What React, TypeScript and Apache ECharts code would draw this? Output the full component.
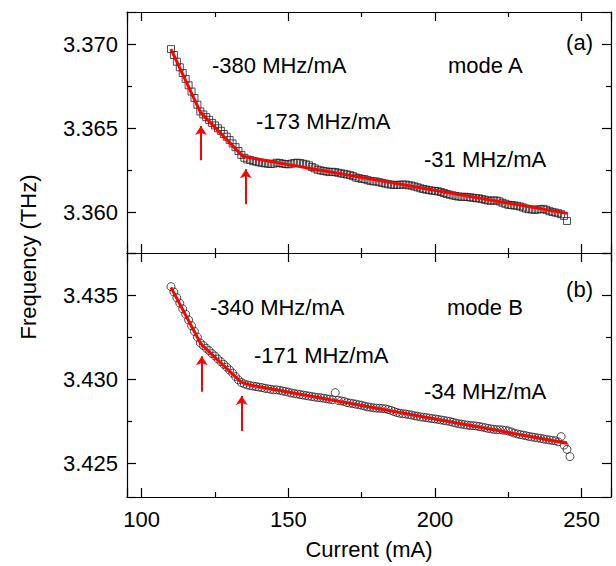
import React, { useEffect, useRef } from "react";
import * as echarts from "echarts";

// ---- Data ----
const currentA = [
  110, 111, 112, 113, 114, 115, 116, 117, 118, 119, 120, 121, 122, 123, 124, 125, 126, 127, 128, 129,
  130, 131, 132, 133, 134, 135, 136, 137, 138, 139, 140, 141, 142, 143, 144, 145, 146, 147, 148, 149,
  150, 151, 152, 153, 154, 155, 156, 157, 158, 159, 160, 161, 162, 163, 164, 165, 166, 167, 168, 169,
  170, 171, 172, 173, 174, 175, 176, 177, 178, 179, 180, 181, 182, 183, 184, 185, 186, 187, 188, 189,
  190, 191, 192, 193, 194, 195, 196, 197, 198, 199, 200, 201, 202, 203, 204, 205, 206, 207, 208, 209,
  210, 211, 212, 213, 214, 215, 216, 217, 218, 219, 220, 221, 222, 223, 224, 225, 226, 227, 228, 229,
  230, 231, 232, 233, 234, 235, 236, 237, 238, 239, 240, 241, 242, 243, 244, 245,
];
const freqA = [
  3.3697, 3.36935, 3.36895, 3.36862, 3.36828, 3.36793, 3.36755, 3.36718, 3.3668, 3.3664,
  3.366, 3.36582, 3.36566, 3.3655, 3.36532, 3.36517, 3.365, 3.36485, 3.36466, 3.3645,
  3.3643, 3.3641, 3.36388, 3.36365, 3.36342, 3.36325, 3.36315, 3.36312, 3.36305, 3.36302,
  3.36298, 3.36295, 3.36292, 3.3629, 3.36288, 3.3629, 3.36296, 3.36294, 3.3629, 3.36288,
  3.36286, 3.3629, 3.36294, 3.36296, 3.36294, 3.3629, 3.36286, 3.3628, 3.3627, 3.36262,
  3.36254, 3.3625, 3.36246, 3.36244, 3.3624, 3.36242, 3.3624, 3.36236, 3.36232, 3.3623,
  3.36226, 3.36222, 3.36216, 3.36208, 3.36204, 3.362, 3.36198, 3.36192, 3.36188, 3.36185,
  3.36184, 3.3618, 3.36176, 3.36172, 3.36168, 3.36166, 3.36164, 3.36164, 3.36165, 3.36166,
  3.36166, 3.36162, 3.3616, 3.36155, 3.3615, 3.36144, 3.3614, 3.36136, 3.36133, 3.3613,
  3.36128, 3.36126, 3.36122, 3.36116, 3.3611, 3.36106, 3.36102, 3.36098, 3.36095, 3.36093,
  3.36094, 3.36092, 3.3609, 3.36088, 3.36085, 3.36084, 3.3608, 3.36076, 3.36072, 3.3607,
  3.36072, 3.36071, 3.36066, 3.36058, 3.36052, 3.36046, 3.36044, 3.36042, 3.3604, 3.36036,
  3.3603, 3.36024, 3.3602, 3.36018, 3.36016, 3.36018, 3.3602, 3.36022, 3.36016, 3.36008,
  3.36004, 3.36, 3.35996, 3.3599, 3.3598, 3.3595,
];
const fitCurrentA = [110, 120, 134.6, 245];
const fitFreqA = [3.3697, 3.36596, 3.36332, 3.35995];

const currentB = [
  110, 111, 112, 113, 114, 115, 116, 117, 118, 119, 120, 121, 122, 123, 124, 125, 126, 127, 128, 129,
  130, 131, 132, 133, 134, 135, 136, 137, 138, 139, 140, 141, 142, 143, 144, 145, 146, 147, 148, 149,
  150, 151, 152, 153, 154, 155, 156, 157, 158, 159, 160, 161, 162, 163, 164, 165, 166, 167, 168, 169,
  170, 171, 172, 173, 174, 175, 176, 177, 178, 179, 180, 181, 182, 183, 184, 185, 186, 187, 188, 189,
  190, 191, 192, 193, 194, 195, 196, 197, 198, 199, 200, 201, 202, 203, 204, 205, 206, 207, 208, 209,
  210, 211, 212, 213, 214, 215, 216, 217, 218, 219, 220, 221, 222, 223, 224, 225, 226, 227, 228, 229,
  230, 231, 232, 233, 234, 235, 236, 237, 238, 239, 240, 241, 242, 243, 244, 245, 246,
];
const freqB = [
  3.4355, 3.43518, 3.43484, 3.43452, 3.43418, 3.43386, 3.43352, 3.43318, 3.43284, 3.4325,
  3.43215, 3.432, 3.43184, 3.4317, 3.43152, 3.43138, 3.4312, 3.43104, 3.43088, 3.43072,
  3.43054, 3.43036, 3.43016, 3.42996, 3.4298, 3.42972, 3.42966, 3.42962, 3.42959, 3.42956,
  3.42953, 3.4295, 3.42946, 3.42943, 3.4294, 3.42937, 3.42937, 3.42934, 3.4293, 3.42927,
  3.42923, 3.42918, 3.42915, 3.42912, 3.42909, 3.42906, 3.42903, 3.429, 3.42897, 3.42894,
  3.42891, 3.4289, 3.42887, 3.42884, 3.42881, 3.42878, 3.4292, 3.42874, 3.42871, 3.42868,
  3.42861, 3.42858, 3.42855, 3.42852, 3.42848, 3.42845, 3.4284, 3.42836, 3.42833, 3.4283,
  3.42828, 3.42827, 3.42826, 3.42824, 3.4282, 3.42815, 3.42808, 3.42802, 3.42798, 3.42795,
  3.42793, 3.4279, 3.42787, 3.42783, 3.4278, 3.42776, 3.42774, 3.42772, 3.42769, 3.42766,
  3.42764, 3.42761, 3.42758, 3.42755, 3.42752, 3.42749, 3.42744, 3.4274, 3.42736, 3.42733,
  3.4273, 3.42727, 3.42724, 3.42724, 3.42722, 3.42719, 3.42716, 3.42712, 3.42708, 3.42705,
  3.42702, 3.427, 3.427, 3.42698, 3.42696, 3.42692, 3.42687, 3.4268, 3.42675, 3.42671,
  3.42668, 3.42664, 3.4266, 3.42657, 3.42654, 3.42651, 3.42648, 3.42645, 3.42642, 3.42639,
  3.42636, 3.42634, 3.42628, 3.42659, 3.42608, 3.42583, 3.4254,
];
const fitCurrentB = [110, 120.1, 133.9, 137, 245];
const fitFreqB = [3.43546, 3.43212, 3.42983, 3.42965, 3.42619];

// arrows: [current, tail frequency, head frequency]
const arrowsA = [
  [120.2, 3.3631, 3.36513],
  [135.5, 3.3605, 3.36257],
];
const arrowsB = [
  [120.5, 3.42926, 3.43137],
  [134.1, 3.42692, 3.429],
];

const xRange = [95, 260];
const yRangeA = [3.3576, 3.3719];
const yRangeB = [3.423, 3.4375];

const FONT = "'Liberation Sans', Arial, Helvetica, sans-serif";

function zip(xs: number[], ys: number[]) {
  return xs.map((x, i) => [x, ys[i]]);
}

export default function App() {
  const ref = useRef<HTMLDivElement>(null);

  useEffect(() => {
    if (!ref.current) return;
    const chart = echarts.init(ref.current, undefined, { renderer: "svg" });

    const axisLine = { show: true, onZero: false, lineStyle: { color: "#000", width: 1.2 } };
    const axisTick = { show: true, inside: true, length: 9, lineStyle: { color: "#000", width: 1.2 } };
    const minorTick = { show: true, splitNumber: 2, length: 5, lineStyle: { color: "#000", width: 1.2 } };

    const mkX = (gridIndex: number, position: string, showLabel: boolean, extra: any = {}) => ({
      type: "value",
      gridIndex,
      position,
      min: xRange[0],
      max: xRange[1],
      splitNumber: 3,
      axisLine,
      axisTick,
      minorTick,
      splitLine: { show: false },
      axisLabel: {
        show: showLabel,
        showMinLabel: false,
        showMaxLabel: false,
        fontSize: 22,
        fontFamily: FONT,
        color: "#000",
        margin: 11,
      },
      ...extra,
    });

    const mkY = (gridIndex: number, position: string, range: number[], showLabel: boolean) => ({
      type: "value",
      gridIndex,
      position,
      min: range[0],
      max: range[1],
      splitNumber: 3,
      scale: true,
      axisLine,
      axisTick,
      minorTick,
      splitLine: { show: false },
      axisLabel: {
        show: showLabel,
        showMinLabel: false,
        showMaxLabel: false,
        fontSize: 22,
        fontFamily: FONT,
        color: "#000",
        margin: 9,
        formatter: (v: number) => v.toFixed(3),
      },
    });

    const arrowMarkLine = (arrows: number[][]) => ({
      silent: true,
      symbol: ["none", "arrow"],
      symbolSize: 9,
      label: { show: false },
      emphasis: { disabled: true },
      lineStyle: { color: "#ff0000", width: 2, type: "solid" },
      data: arrows.map((a) => [{ coord: [a[0], a[1]] }, { coord: [a[0], a[2]] }]),
    });

    const textStyle = (text: string, x: number, y: number, align = "left") => ({
      type: "text",
      x,
      y,
      style: {
        text,
        fontSize: 22,
        fontFamily: FONT,
        fill: "#000",
        align,
        verticalAlign: "middle",
      },
    });

    chart.setOption({
      animation: false,
      backgroundColor: "#fff",
      grid: [
        { left: 127, top: 12, right: 5, height: 241 },
        { left: 127, top: 253, right: 5, height: 244 },
      ],
      xAxis: [
        mkX(0, "bottom", false),
        mkX(0, "top", false),
        mkX(1, "bottom", true, {
          name: "Current (mA)",
          nameLocation: "middle",
          nameGap: 41,
          nameTextStyle: { fontSize: 22, fontFamily: FONT, color: "#000" },
        }),
        mkX(1, "top", false),
      ],
      yAxis: [
        mkY(0, "left", yRangeA, true),
        mkY(0, "right", yRangeA, false),
        mkY(1, "left", yRangeB, true),
        mkY(1, "right", yRangeB, false),
      ],
      series: [
        {
          name: "mode A",
          type: "scatter",
          xAxisIndex: 0,
          yAxisIndex: 0,
          symbol: "rect",
          symbolSize: 7,
          itemStyle: { color: "rgba(0,0,0,0)", borderColor: "#222", borderWidth: 1 },
          data: zip(currentA, freqA),
          z: 2,
        },
        {
          name: "fit A",
          type: "line",
          xAxisIndex: 0,
          yAxisIndex: 0,
          symbol: "none",
          lineStyle: { color: "#ff0000", width: 3 },
          data: zip(fitCurrentA, fitFreqA),
          markLine: arrowMarkLine(arrowsA),
          z: 3,
        },
        {
          name: "mode B",
          type: "scatter",
          xAxisIndex: 2,
          yAxisIndex: 2,
          symbol: "circle",
          symbolSize: 8,
          itemStyle: { color: "rgba(0,0,0,0)", borderColor: "#222", borderWidth: 1 },
          data: zip(currentB, freqB),
          z: 2,
        },
        {
          name: "fit B",
          type: "line",
          xAxisIndex: 2,
          yAxisIndex: 2,
          symbol: "none",
          lineStyle: { color: "#ff0000", width: 3 },
          data: zip(fitCurrentB, fitFreqB),
          markLine: arrowMarkLine(arrowsB),
          z: 3,
        },
      ],
      graphic: [
        {
          type: "text",
          x: 28,
          y: 257,
          rotation: Math.PI / 2,
          style: {
            text: "Frequency (THz)",
            fontSize: 22,
            fontFamily: FONT,
            fill: "#000",
            align: "center",
            verticalAlign: "middle",
          },
        },
        textStyle("-380 MHz/mA", 212, 65),
        textStyle("mode A", 448, 65),
        textStyle("(a)", 593, 42, "right"),
        textStyle("-173 MHz/mA", 256, 121),
        textStyle("-31 MHz/mA", 424, 159),
        textStyle("-340 MHz/mA", 210, 307),
        textStyle("mode B", 447, 307),
        textStyle("(b)", 593, 289, "right"),
        textStyle("-171 MHz/mA", 254, 355),
        textStyle("-34 MHz/mA", 424, 391),
      ],
    });

    return () => chart.dispose();
  }, []);

  return (
    <div
      ref={ref}
      style={{ position: "fixed", left: 0, top: 0, width: 616, height: 566 }}
    />
  );
}
